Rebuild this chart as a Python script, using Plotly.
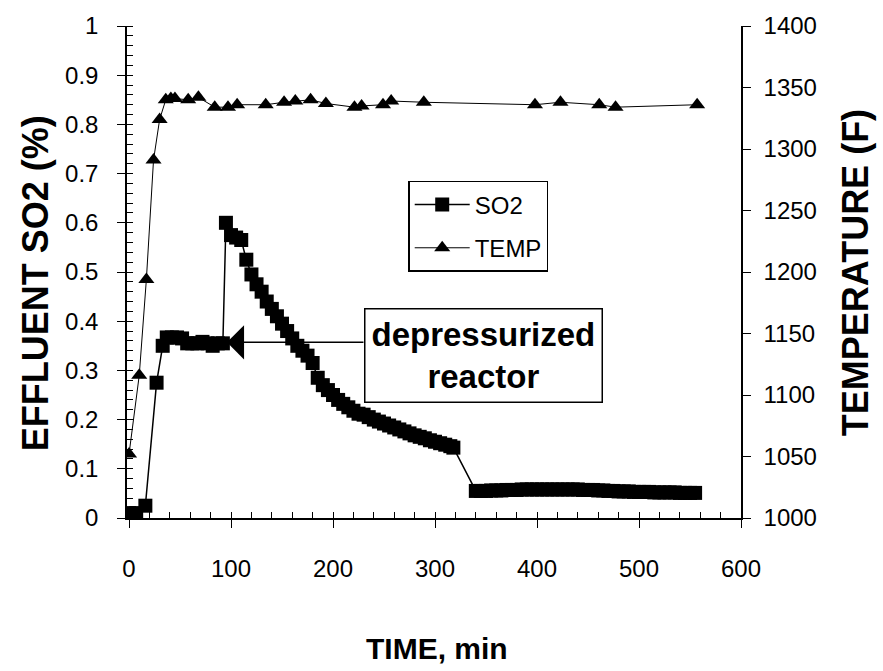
import plotly.graph_objects as go

# ---- data ----
so2_time = [0, 7, 16, 27, 33, 37, 42, 47, 52, 57, 62, 67, 72, 77, 82, 87, 92,
            95, 100, 105, 110, 115, 120, 125, 130, 135, 140, 145, 150, 155, 160,
            165, 170, 175, 180, 185, 190, 195, 200, 205, 210, 215, 220, 225, 230,
            235, 240, 245, 250, 255, 260, 265, 270, 275, 280, 285, 290, 295, 300,
            305, 310, 315, 318,
            340, 345, 350, 355, 360, 365, 370, 375, 380, 385, 390, 395, 400, 405,
            410, 415, 420, 425, 430, 435, 440, 445, 450, 455, 460, 465, 470, 475,
            480, 485, 490, 495, 500, 505, 510, 515, 520, 525, 530, 535, 540, 545,
            550, 555]
so2_pct = [0.01, 0.01, 0.025, 0.275, 0.35, 0.367, 0.367, 0.367, 0.365, 0.355,
           0.355, 0.355, 0.358, 0.355, 0.35, 0.355, 0.355,
           0.60, 0.575, 0.57, 0.565, 0.525, 0.495, 0.475, 0.46, 0.44, 0.425,
           0.41, 0.395, 0.38, 0.365, 0.35, 0.34, 0.33, 0.315, 0.285, 0.27, 0.26,
           0.25, 0.24, 0.232, 0.225, 0.218, 0.212, 0.21, 0.205, 0.20, 0.196,
           0.192, 0.188, 0.184, 0.18, 0.176, 0.172, 0.168, 0.165, 0.162, 0.158,
           0.155, 0.152, 0.149, 0.146, 0.143,
           0.055, 0.055, 0.055, 0.056, 0.056, 0.056, 0.057, 0.057, 0.057, 0.058,
           0.058, 0.058, 0.058, 0.058, 0.058, 0.058, 0.058, 0.058, 0.058, 0.058,
           0.058, 0.057, 0.057, 0.057, 0.056, 0.056, 0.055, 0.055, 0.054, 0.054,
           0.054, 0.053, 0.053, 0.053, 0.053, 0.052, 0.052, 0.052, 0.052, 0.052,
           0.051, 0.051, 0.051, 0.051, 0.051, 0.051]

temp_time = [0, 10, 17, 24, 30, 36, 41, 45, 58, 68, 84, 97, 106, 134, 152, 163,
             178, 193, 221, 228, 249, 257, 289, 398, 423, 461, 477, 557]
temp_f = [1052, 1116, 1194, 1291, 1324, 1340, 1341, 1341, 1340, 1342, 1334,
          1334, 1336, 1336, 1338, 1339, 1340, 1337, 1334, 1335, 1336, 1339,
          1338, 1336, 1338, 1336, 1334, 1336]

x_range = [-2, 600]
so2_range = [0, 1]
temp_range = [1000, 1400]

FONT = "Liberation Sans, Arial, sans-serif"
BLACK = "black"

fig = go.Figure()
fig.add_trace(go.Scatter(
    x=so2_time, y=so2_pct, name="SO2", mode="lines+markers",
    legendgroup="a",
    line=dict(color=BLACK, width=1.5),
    marker=dict(symbol="square", size=14, color=BLACK),
    yaxis="y"))
fig.add_trace(go.Scatter(
    x=temp_time, y=temp_f, name="TEMP", mode="lines+markers",
    legendgroup="b",
    line=dict(color=BLACK, width=1),
    marker=dict(symbol="triangle-up", size=14, color=BLACK),
    yaxis="y2"))

axis_common = dict(showgrid=False, zeroline=False, linecolor=BLACK,
                   tickcolor=BLACK, tickwidth=1.2,
                   tickfont=dict(family=FONT, size=24, color=BLACK))
overlay_common = dict(showticklabels=False, showline=False, showgrid=False,
                      zeroline=False, tickcolor=BLACK, tickwidth=1.2,
                      ticks="inside", ticklen=8)

fig.update_layout(
    width=883, height=671,
    margin=dict(l=127, r=142, t=20, b=153),
    paper_bgcolor="white", plot_bgcolor="white",
    showlegend=True,
    xaxis=dict(range=x_range, dtick=100, tick0=0, ticks="outside", ticklen=8,
               showline=True, linewidth=1.5, ticklabelstandoff=20,
               minor=dict(ticks="inside", dtick=20, ticklen=6,
                          tickcolor=BLACK, tickwidth=1),
               **axis_common),
    xaxis2=dict(range=x_range, overlaying="x", dtick=100, tick0=0,
                **overlay_common),
    yaxis=dict(range=so2_range, dtick=0.1, tick0=0, ticks="outside",
               ticklen=8, showline=True, linewidth=1.5, ticklabelstandoff=14,
               minor=dict(ticks="inside", dtick=0.02, ticklen=6,
                          tickcolor=BLACK, tickwidth=1),
               **axis_common),
    yaxis2=dict(range=temp_range, overlaying="y", side="right", dtick=50,
                tick0=1000, ticks="outside", ticklen=8, showline=True,
                linewidth=1.5, ticklabelstandoff=8,
                **axis_common),
    yaxis3=dict(range=so2_range, overlaying="y", side="left", dtick=0.1,
                tick0=0, **overlay_common),
    yaxis4=dict(range=temp_range, overlaying="y", side="right", dtick=50,
                tick0=1000, **overlay_common),
    legend=dict(x=0.458, y=0.685, xanchor="left", yanchor="top",
                bgcolor="white", bordercolor=BLACK, borderwidth=1.5,
                font=dict(family=FONT, size=24, color=BLACK),
                itemwidth=55, tracegroupgap=9),
)

# axis titles
title_font = dict(family=FONT, size=36, color=BLACK)
fig.add_annotation(x=-0.1498, y=0.477, xref="paper", yref="paper",
                   text="<b>EFFLUENT SO2 (%)</b>", textangle=-90,
                   showarrow=False, font=title_font,
                   xanchor="center", yanchor="middle")
fig.add_annotation(x=1.1857, y=0.4976, xref="paper", yref="paper",
                   text="<b>TEMPERATURE (F)</b>", textangle=-90,
                   showarrow=False, font=title_font,
                   xanchor="center", yanchor="middle")
fig.add_annotation(x=0.505, y=-0.265, xref="paper", yref="paper",
                   text="<b>TIME, min</b>", showarrow=False,
                   font=dict(family=FONT, size=30, color=BLACK),
                   xanchor="center", yanchor="middle")

# annotation box
fig.add_annotation(
    x=0.5814, y=0.33, xref="paper", yref="paper",
    text="<b>depressurized<br>reactor</b>", showarrow=False,
    font=dict(family=FONT, size=33, color=BLACK),
    bordercolor=BLACK, borderwidth=1.5, bgcolor="white", borderpad=6,
    align="center", xanchor="center", yanchor="middle")
# arrow pointing to the depressurization point
fig.add_annotation(
    x=96, y=0.357, xref="x", yref="y", text="",
    showarrow=True, arrowhead=1, arrowsize=3.8, arrowwidth=1.5,
    arrowcolor=BLACK, ax=138, ay=0)

fig.write_html("out.html")
